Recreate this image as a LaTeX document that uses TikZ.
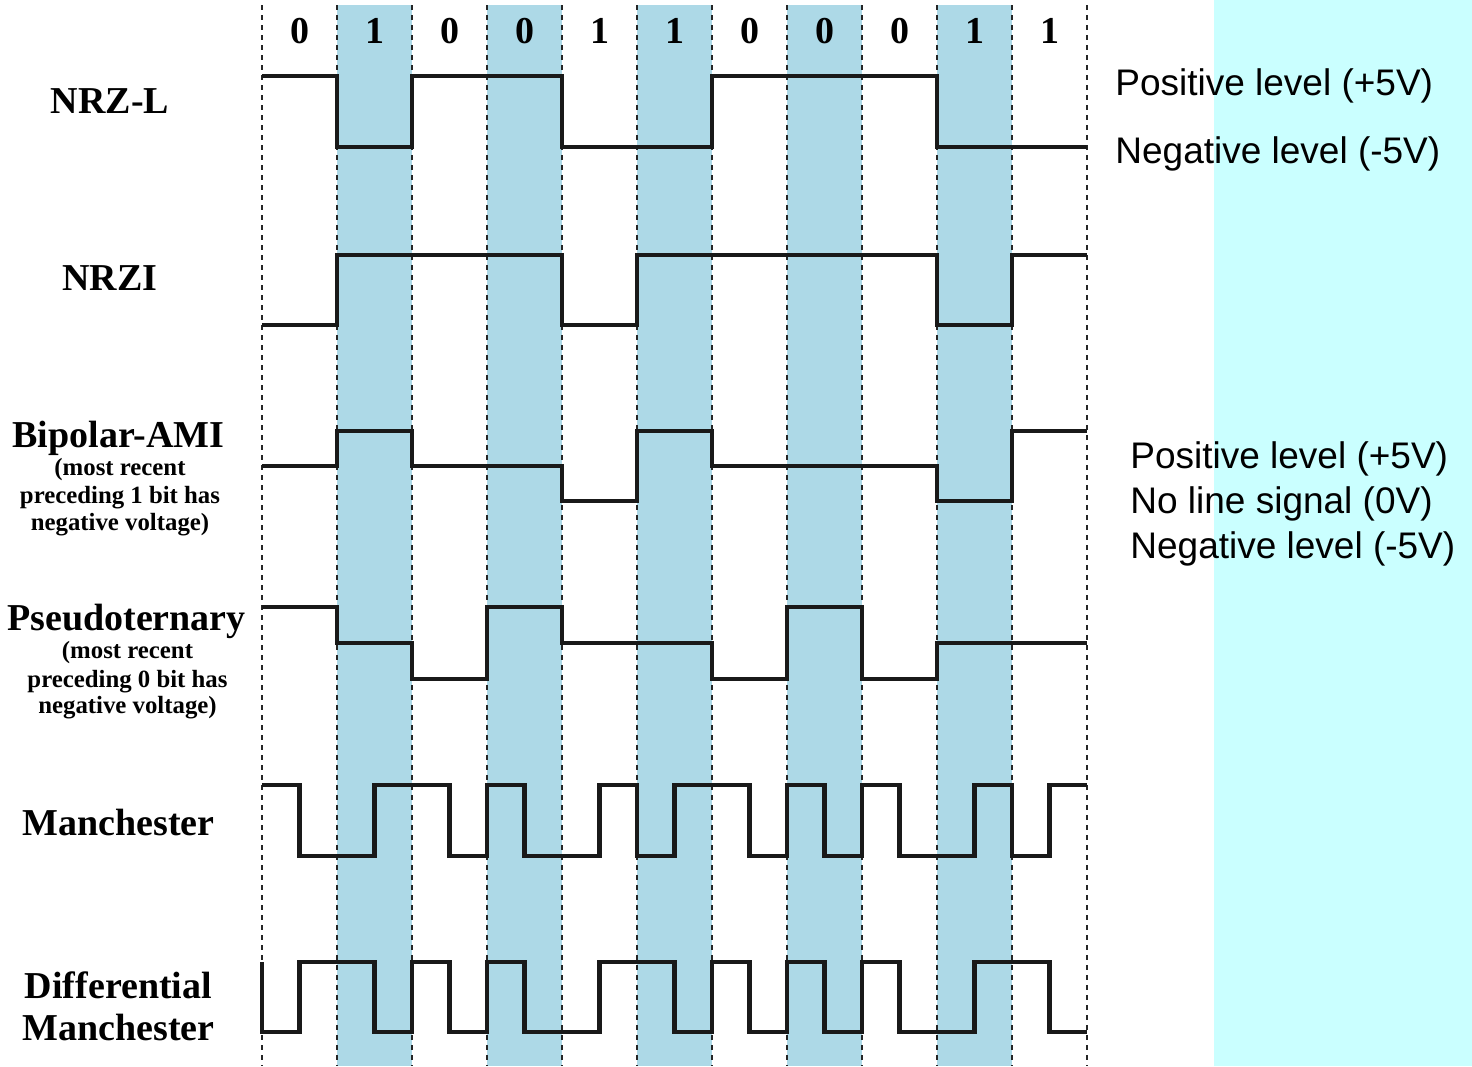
\documentclass[tikz,border=0pt]{standalone}
\usepackage{fontspec}
\setmainfont{Liberation Serif}
\setsansfont{Liberation Sans}
\usetikzlibrary{positioning}

\definecolor{bitshade}{RGB}{173,217,231}
\definecolor{keyback}{RGB}{202,255,255}

\tikzset{
  wave/.style={line width=2.4pt, line join=miter, line cap=butt, draw=black!90},
  bitgrid/.style={line width=0.8pt, draw=black!85, dash pattern=on 2.5pt off 2.5pt},
  bitlabel/.style={anchor=base, inner sep=0pt, font=\fontsize{19}{22}\selectfont\bfseries},
  codename/.style={anchor=base, inner sep=0pt, font=\fontsize{19}{22}\selectfont\bfseries},
  codenote/.style={anchor=base, inner sep=0pt, font=\fontsize{12.4}{14}\selectfont\bfseries},
  levelkey/.style={anchor=base west, inner sep=0pt, font=\fontsize{18.5}{22}\selectfont\sffamily}
}

\begin{document}
\begin{tikzpicture}[x=0.5pt, y=-0.5pt]
\useasboundingbox (0,0) rectangle (1472,1066);

% key background
\fill[keyback] (1214,0) rectangle (1472,1066);

% shaded bit cells and bit grid
\foreach \i in {1,3,5,7,9}
  \fill[bitshade] (262+75*\i,5) rectangle ++(75,1061);
\foreach \i in {0,...,11}
  \draw[bitgrid] (262+75*\i,5) -- (262+75*\i,1066);

% bits
\foreach \b [count=\i from 0] in {0,1,0,0,1,1,0,0,0,1,1}
  \node[bitlabel] (bit\i) at (299.5+75*\i,43) {\b};

% NRZ-L
\draw[wave] (262,76) -- (337,76) -- (337,147) -- (412,147) -- (412,76) -- (562,76)
  -- (562,147) -- (712,147) -- (712,76) -- (937,76) -- (937,147) -- (1087,147);
% NRZI
\draw[wave] (262,325) -- (337,325) -- (337,255) -- (562,255) -- (562,325) -- (637,325)
  -- (637,255) -- (937,255) -- (937,325) -- (1012,325) -- (1012,255) -- (1087,255);
% Bipolar-AMI
\draw[wave] (262,466) -- (337,466) -- (337,431) -- (412,431) -- (412,466) -- (562,466)
  -- (562,501) -- (637,501) -- (637,431) -- (712,431) -- (712,466) -- (937,466)
  -- (937,501) -- (1012,501) -- (1012,431) -- (1087,431);
% Pseudoternary
\draw[wave] (262,607) -- (337,607) -- (337,643) -- (412,643) -- (412,679) -- (487,679)
  -- (487,607) -- (562,607) -- (562,643) -- (712,643) -- (712,679) -- (787,679)
  -- (787,607) -- (862,607) -- (862,679) -- (937,679) -- (937,643) -- (1087,643);
% Manchester
\draw[wave] (262,785) -- (299.5,785) -- (299.5,856) -- (374.5,856) -- (374.5,785)
  -- (449.5,785) -- (449.5,856) -- (487,856) -- (487,785) -- (524.5,785) -- (524.5,856)
  -- (599.5,856) -- (599.5,785) -- (637,785) -- (637,856) -- (674.5,856) -- (674.5,785)
  -- (749.5,785) -- (749.5,856) -- (787,856) -- (787,785) -- (824.5,785) -- (824.5,856)
  -- (862,856) -- (862,785) -- (899.5,785) -- (899.5,856) -- (974.5,856) -- (974.5,785)
  -- (1012,785) -- (1012,856) -- (1049.5,856) -- (1049.5,785) -- (1087,785);
% Differential Manchester
\draw[wave] (262,962) -- (262,1032) -- (299.5,1032) -- (299.5,962) -- (374.5,962)
  -- (374.5,1032) -- (412,1032) -- (412,962) -- (449.5,962) -- (449.5,1032) -- (487,1032)
  -- (487,962) -- (524.5,962) -- (524.5,1032) -- (599.5,1032) -- (599.5,962) -- (674.5,962)
  -- (674.5,1032) -- (712,1032) -- (712,962) -- (749.5,962) -- (749.5,1032) -- (787,1032)
  -- (787,962) -- (824.5,962) -- (824.5,1032) -- (862,1032) -- (862,962) -- (899.5,962)
  -- (899.5,1032) -- (974.5,1032) -- (974.5,962) -- (1049.5,962) -- (1049.5,1032) -- (1087,1032);

% code names
\node[codename] (nrzl) at (110,113) {NRZ-L};
\node[codename] (nrzi) at (110,290) {NRZI};
\node[codename] (ami) at (118.5,447) {Bipolar-AMI};
\node[codenote] (ami1) at (120,475) {(most recent};
\node[codenote] (ami2) at (120,503) {preceding 1 bit has};
\node[codenote] (ami3) at (120,530) {negative voltage)};
\node[codename] (pseudo) at (126.5,630) {Pseudoternary};
\node[codenote] (pseudo1) at (127.5,658) {(most recent};
\node[codenote] (pseudo2) at (127.5,687) {preceding 0 bit has};
\node[codenote] (pseudo3) at (127.5,713) {negative voltage)};
\node[codename] (manch) at (118.5,835) {Manchester};
\node[codename] (diff1) at (118.5,998) {Differential};
\node[codename] (diff2) at (118.5,1040) {Manchester};

% level key
\node[levelkey] (nrzpos) at (1115,95) {Positive level (+5V)};
\node[levelkey] (nrzneg) at (1115,163) {Negative level (-5V)};
\node[levelkey] (amipos) at (1130,468) {Positive level (+5V)};
\node[levelkey] (amizero) at (1130,513) {No line signal (0V)};
\node[levelkey] (amineg) at (1130,558) {Negative level (-5V)};
\end{tikzpicture}
\end{document}
